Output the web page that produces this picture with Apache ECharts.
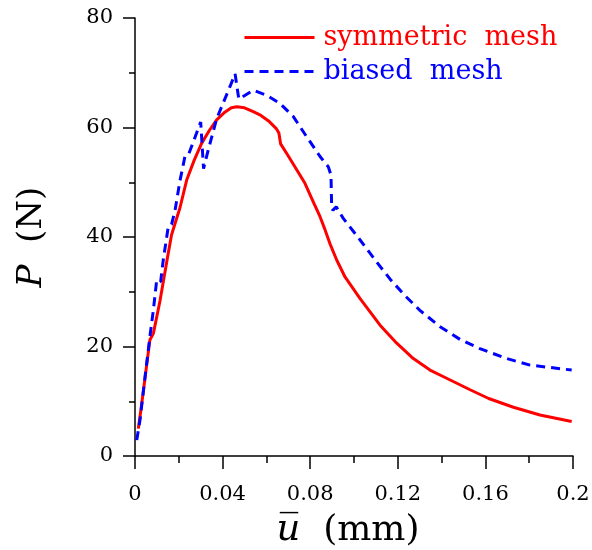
<!DOCTYPE html>
<html>
<head>
<meta charset="utf-8">
<script src="https://cdn.jsdelivr.net/npm/echarts@6/dist/echarts.min.js"></script>
<style>
  html, body { margin: 0; padding: 0; background: #fff; }
  #chart { width: 592px; height: 550px; }
</style>
</head>
<body>
<div id="chart"></div>
<script>
// Load-displacement response for two mesh layouts
const xTicks = [0, 0.04, 0.08, 0.12, 0.16, 0.2];
const yTicks = [0, 20, 40, 60, 80];

const symU = [0.0015, 0.0027, 0.0045, 0.0068, 0.0084, 0.0114, 0.0145, 0.0167, 0.0205, 0.0236,
  0.0270, 0.0304, 0.0340, 0.0373, 0.0410, 0.0440, 0.0465, 0.0500, 0.0540, 0.0575,
  0.0610, 0.0645, 0.0657, 0.0665, 0.0700, 0.0723, 0.0776, 0.0814, 0.0845, 0.0868,
  0.0890, 0.0921, 0.0959, 0.1027, 0.1119, 0.1195, 0.1271, 0.1347, 0.1423, 0.1530,
  0.1615, 0.1728, 0.1849, 0.1994];
const symP = [5.0, 8.4, 14.0, 21.2, 22.4, 28.3, 35.5, 40.4, 45.3, 50.4,
  54.0, 57.1, 59.5, 61.4, 62.8, 63.6, 63.8, 63.6, 62.9, 62.2,
  61.2, 59.8, 59.0, 57.0, 54.8, 53.3, 49.8, 46.4, 43.7, 41.3,
  38.8, 35.8, 32.7, 28.8, 23.9, 20.6, 17.8, 15.7, 14.2, 12.1,
  10.5, 8.9, 7.5, 6.3];

const biaU = [0.0008, 0.0023, 0.0046, 0.0068, 0.0084, 0.0099, 0.0117, 0.0129, 0.0152, 0.0167,
  0.0183, 0.0205, 0.0228, 0.0244, 0.0300, 0.0313, 0.0335, 0.0373, 0.0434, 0.0457,
  0.0474, 0.0540, 0.0601, 0.0662, 0.0723, 0.0784, 0.0845, 0.0883, 0.0895, 0.0898,
  0.0904, 0.0919, 0.0951, 0.1027, 0.1104, 0.1165, 0.1230, 0.1301, 0.1393, 0.1484,
  0.1575, 0.1697, 0.1804, 0.1994];
const biaP = [2.9, 6.6, 14.5, 21.8, 26.7, 32.1, 31.8, 35.8, 41.9, 42.3,
  44.9, 50.2, 54.7, 55.0, 61.0, 52.5, 56.0, 61.6, 67.5, 69.8,
  65.2, 66.8, 65.9, 64.4, 62.0, 58.3, 54.7, 52.8, 51.3, 45.3,
  44.9, 45.5, 43.4, 39.5, 35.4, 32.3, 29.4, 26.6, 23.6, 21.3,
  19.6, 17.8, 16.6, 15.7];

const seriesNames = ['symmetric  mesh', 'biased  mesh'];
const seriesColors = ['#ff0000', '#0000ff'];

const pair = (xs, ys) => xs.map((x, i) => [x, ys[i]]);
const serif = 'DejaVu Serif';

const chart = echarts.init(document.getElementById('chart'), null, { renderer: 'canvas' });
chart.setOption({
  animation: false,
  backgroundColor: '#ffffff',
  grid: { left: 135, right: 19, top: 18, bottom: 94, containLabel: false, outerBoundsMode: 'none' },
  legend: {
    orient: 'vertical',
    left: 243,
    top: 24,
    padding: 0,
    itemWidth: 70,
    itemHeight: 27,
    itemGap: 7,
    itemStyle: { opacity: 0 },
    lineStyle: { width: 3 },
    textStyle: { fontFamily: serif, fontSize: 27, padding: [0, 0, 0, 4] },
    data: [
      { name: seriesNames[0], textStyle: { color: seriesColors[0] } },
      { name: seriesNames[1], textStyle: { color: seriesColors[1] } }
    ]
  },
  xAxis: {
    type: 'value',
    min: xTicks[0],
    max: xTicks[xTicks.length - 1],
    interval: xTicks[1] - xTicks[0],
    name: '{u|u\u0305}  (mm)',
    nameLocation: 'middle',
    nameGap: 56,
    nameTextStyle: {
      fontFamily: serif, fontSize: 36, color: '#000',
      padding: [0, 12, 0, 0],
      rich: { u: { fontFamily: serif, fontStyle: 'italic', fontSize: 37, color: '#000' } }
    },
    axisLine: { show: true, onZero: false, lineStyle: { color: '#000', width: 1.5 } },
    axisTick: { show: true, inside: false, length: 13, lineStyle: { color: '#000', width: 1.5 } },
    minorTick: { show: true, splitNumber: 2, length: 7, lineStyle: { color: '#000', width: 1.5 } },
    axisLabel: {
      fontFamily: serif, fontSize: 21, color: '#000', margin: 28,
      formatter: v => String(+v.toFixed(2))
    },
    splitLine: { show: false }
  },
  yAxis: {
    type: 'value',
    min: yTicks[0],
    max: yTicks[yTicks.length - 1],
    interval: yTicks[1] - yTicks[0],
    name: '{p|P}  (N)',
    nameLocation: 'middle',
    nameGap: 86,
    nameRotate: 90,
    nameTextStyle: {
      fontFamily: serif, fontSize: 34, color: '#000',
      rich: { p: { fontFamily: serif, fontStyle: 'italic', fontSize: 34, color: '#000' } }
    },
    axisLine: { show: true, onZero: false, lineStyle: { color: '#000', width: 1.5 } },
    axisTick: { show: true, inside: false, length: 12, lineStyle: { color: '#000', width: 1.5 } },
    minorTick: { show: true, splitNumber: 2, length: 6, lineStyle: { color: '#000', width: 1.5 } },
    axisLabel: { fontFamily: serif, fontSize: 21, color: '#000', margin: 22 },
    splitLine: { show: false }
  },
  series: [
    {
      name: seriesNames[0],
      type: 'line',
      data: pair(symU, symP),
      symbol: 'none',
      showSymbol: false,
      color: seriesColors[0],
      lineStyle: { color: seriesColors[0], width: 3 }
    },
    {
      name: seriesNames[1],
      type: 'line',
      data: pair(biaU, biaP),
      symbol: 'none',
      showSymbol: false,
      color: seriesColors[1],
      lineStyle: { color: seriesColors[1], width: 3, type: [9, 6] }
    }
  ]
});
</script>
</body>
</html>
